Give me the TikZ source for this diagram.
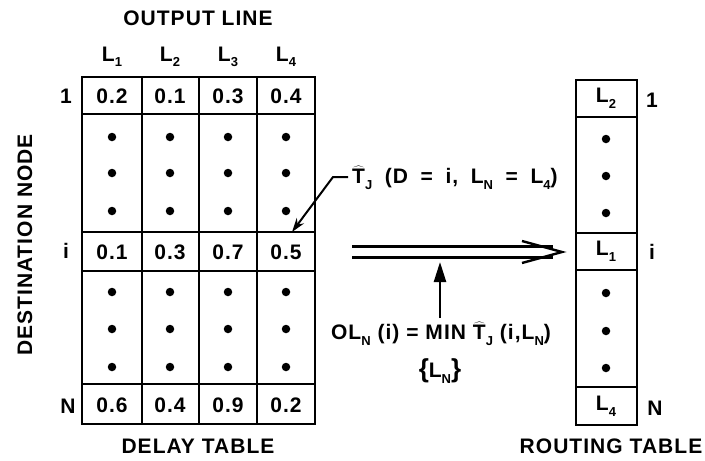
\documentclass[tikz,border=0pt]{standalone}
\usepackage{fontspec}
\newfontfamily\lbl{Liberation Sans}[LetterSpace=5]
\usetikzlibrary{arrows.meta}
\newcommand\sbs[1]{\raisebox{-0.5ex}{\fontsize{13}{13}\selectfont #1}}
\newcommand\That{$\widehat{\mbox{T}}$}
\newcommand\wsp{\hspace{0.6em}}
\begin{document}
\begin{tikzpicture}[x=1pt,y=-1pt,
  txt/.style={font=\lbl\bfseries\fontsize{21}{24}\selectfont, inner sep=0pt},
  tbl/.style={line width=2.4pt, line join=miter},
  grid/.style={line width=2pt},
  dot/.style={circle, fill=black, inner sep=0pt, minimum size=8.5pt},
  conn/.style={line width=2.4pt}]
\useasboundingbox (0,0) rectangle (705,461);

% ---------- delay table ----------
\draw[tbl] (82,77) rectangle (315,424);
\foreach \x in {142,199,257} \draw[grid] (\x,77) -- (\x,424);
\foreach \y in {114,232,271,384} \draw[grid] (82,\y) -- (315,\y);

\node[txt] (outl) at (198,18) {OUTPUT LINE};
\node[txt] (L1) at (112,57) {L\sbs{1}};
\node[txt] (L2) at (170,57) {L\sbs{2}};
\node[txt] (L3) at (228,57) {L\sbs{3}};
\node[txt] (L4) at (286,57) {L\sbs{4}};

\node[txt] (r1) at (66,96) {1};
\node[txt] (ri) at (66,251) {i};
\node[txt] (rN) at (68,406) {N};

\node[txt, rotate=90] (dest) at (25,245) {DESTINATION NODE};
\node[txt] (dtab) at (198,446) {DELAY TABLE};

\node[txt] (c11) at (112,96) {0.2};
\node[txt] (c12) at (170,96) {0.1};
\node[txt] (c13) at (228,96) {0.3};
\node[txt] (c14) at (286,96) {0.4};
\node[txt] (ci1) at (112,252) {0.1};
\node[txt] (ci2) at (170,252) {0.3};
\node[txt] (ci3) at (228,252) {0.7};
\node[txt] (ci4) at (286,252) {0.5};
\node[txt] (cN1) at (112,405) {0.6};
\node[txt] (cN2) at (170,405) {0.4};
\node[txt] (cN3) at (228,405) {0.9};
\node[txt] (cN4) at (286,405) {0.2};

\foreach \x in {112,170,228,286}
  \foreach \y in {137,173,211,292,329,367}
    \node[dot] at (\x,\y) {};

% ---------- routing table ----------
\draw[tbl] (576,80) rectangle (637,425);
\foreach \y in {117,233,270,387} \draw[grid] (576,\y) -- (637,\y);
\node[txt] (rt1) at (606,98) {L\sbs{2}};
\node[txt] (rti) at (606,251) {L\sbs{1}};
\node[txt] (rtN) at (606,406) {L\sbs{4}};
\foreach \y in {139,176,213,293,331,368}
  \node[dot] at (606,\y) {};
\node[txt] (s1) at (652,100) {1};
\node[txt] (si) at (652,252) {i};
\node[txt] (sN) at (655,408) {N};
\node[txt] (rtab) at (611,446) {ROUTING TABLE};

% ---------- double arrow ----------
\coordinate (da) at (352,252);
\coordinate (db) at (562,252);
\draw[conn] ([yshift=-5.5pt]da) -- ([xshift=-9pt,yshift=-5.5pt]db);
\draw[conn] ([yshift=5.5pt]da) -- ([xshift=-9pt,yshift=5.5pt]db);
\draw[conn, line join=miter] ([xshift=-40pt,yshift=-11pt]db) -- (db) -- ([xshift=-40pt,yshift=11pt]db);

% ---------- formula ----------
\node[txt] (form) at (441,334) {OL\sbs{N} (i) = MIN \That\sbs{J} (i,L\sbs{N})};
\node[txt] (under) at (440,371) {{\fontsize{26}{26}\selectfont\{}L\sbs{N}{\fontsize{26}{26}\selectfont\}}};
\coordinate (upt) at (440,262);
\draw[conn, -{Triangle[length=20pt,width=12pt]}] (440,318) -- (upt);

% ---------- annotation ----------
\node[txt, anchor=west] (ann) at (352,178) {\That\sbs{J}\wsp(D\wsp=\wsp i,\wsp L\sbs{N}\wsp=\wsp L\sbs{4})};
\coordinate (tip) at (292,232);
\draw[line width=2pt, -{Stealth[length=14pt,width=9pt]}] (ann.west) ++(-4,-1) -- ++(-15,0) -- (tip);
\end{tikzpicture}
\end{document}
